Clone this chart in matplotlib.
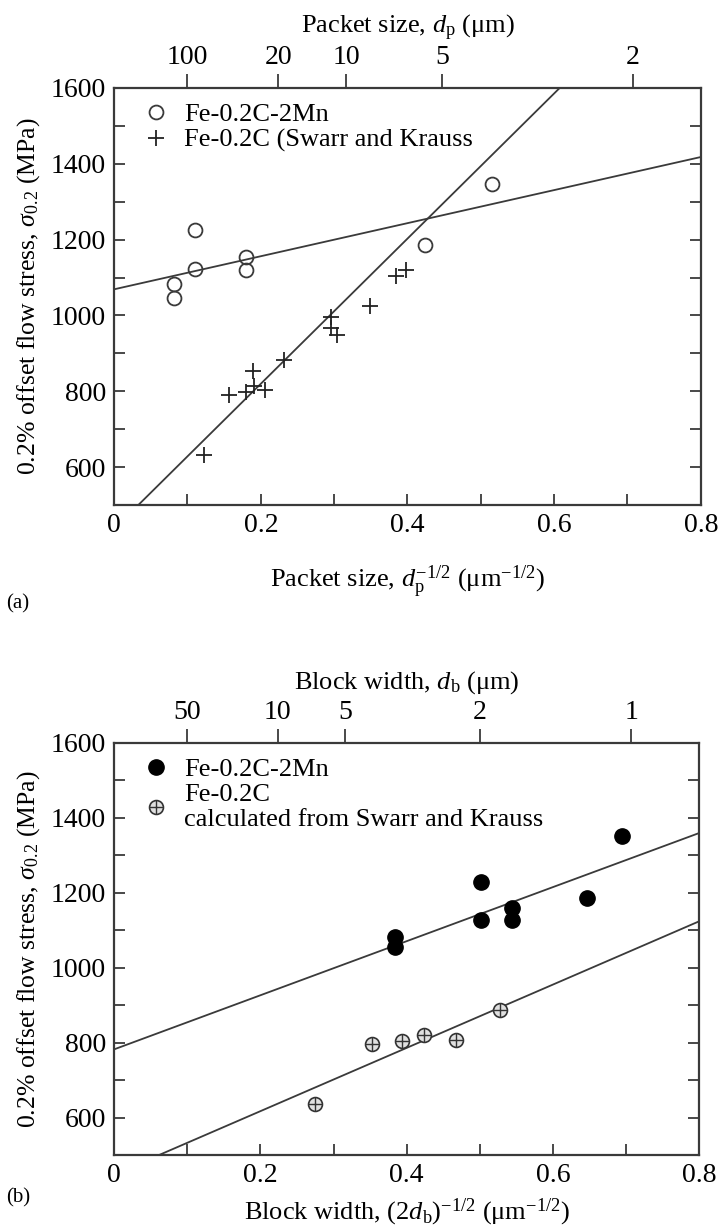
import numpy as np
import matplotlib
matplotlib.use('Agg')
import matplotlib.pyplot as plt
from matplotlib.legend_handler import HandlerTuple

plt.rcParams['font.family'] = ['Liberation Serif', 'DejaVu Serif']
plt.rcParams['mathtext.fontset'] = 'custom'
plt.rcParams['mathtext.rm'] = 'Liberation Serif'
plt.rcParams['mathtext.it'] = 'Liberation Serif:italic'

# (a) packet size data
mn_a_x = [0.081, 0.081, 0.110, 0.110, 0.180, 0.180, 0.424, 0.515]
mn_a_y = [1082, 1047, 1225, 1122, 1155, 1119, 1186, 1346]
c_a_x = [0.123, 0.157, 0.180, 0.190, 0.191, 0.206, 0.232, 0.296, 0.296, 0.304, 0.349, 0.384, 0.398]
c_a_y = [631, 789, 799, 854, 815, 804, 882, 995, 968, 949, 1024, 1104, 1119]
fit_a_mn = (1069, 436)    # intercept, slope
fit_a_c = (437, 1914)
packet_ticks = [100, 20, 10, 5, 2]

# (b) block width data
mn_b_x = [0.384, 0.384, 0.502, 0.502, 0.544, 0.544, 0.646, 0.694]
mn_b_y = [1083, 1054, 1229, 1127, 1158, 1127, 1186, 1351]
c_b_x = [0.275, 0.353, 0.393, 0.424, 0.468, 0.527]
c_b_y = [635, 795, 804, 821, 808, 888]
fit_b_mn = (782, 722)
fit_b_c = (448, 845)
block_ticks = [50, 10, 5, 2, 1]

FS = 19
grey = '#3a3a3a'


def style(ax):
    ax.set_xlim(0, 0.8)
    ax.set_ylim(500, 1600)
    ax.set_xticks([0, 0.2, 0.4, 0.6, 0.8])
    ax.set_xticklabels(['0', '0.2', '0.4', '0.6', '0.8'])
    ax.set_xticks(np.arange(0.1, 0.8, 0.2), minor=True)
    ax.set_yticks([600, 800, 1000, 1200, 1400, 1600])
    ax.set_yticks(np.arange(500, 1600, 200), minor=True)
    ax.tick_params(which='both', direction='in', top=True, right=True,
                   labelsize=20, width=1.3, color=grey, pad=6, length=8)
    for s in ax.spines.values():
        s.set_linewidth(1.6)
        s.set_color(grey)
    ax.set_ylabel(r'0.2% offset flow stress, $\sigma_{0.2}$ (MPa)', fontsize=18.5, labelpad=6)


def top_axis(ax, vals, xfun, label):
    t = ax.twiny()
    t.set_xlim(ax.get_xlim())
    t.set_xticks([xfun(v) for v in vals])
    t.set_xticklabels([str(v) for v in vals])
    t.tick_params(direction='out', length=10, width=1.3, color=grey, labelsize=20, pad=3)
    t.xaxis.set_minor_locator(plt.NullLocator())
    for s in t.spines.values():
        s.set_visible(False)
    t.set_xlabel(label, fontsize=FS, labelpad=8)
    return t


fig = plt.figure(figsize=(7.18, 12.30), dpi=100)
xs = np.linspace(0, 0.8, 200)
leg_kw = dict(loc='upper left', frameon=False, fontsize=FS, handletextpad=0.45,
              borderaxespad=0.15, labelspacing=0.1, handlelength=1.2,
              bbox_to_anchor=(0.02, 1.0))

# ---- (a)
ax1 = fig.add_axes([0.159, 0.5894, 0.817, 0.3391])
style(ax1)
ax1.plot(xs, fit_a_mn[0] + fit_a_mn[1] * xs, color=grey, lw=1.3)
ax1.plot(xs, fit_a_c[0] + fit_a_c[1] * xs, color=grey, lw=1.3)
ax1.plot(mn_a_x, mn_a_y, 'o', mfc='none', mec=grey, ms=10, mew=1.3, label='Fe-0.2C-2Mn')
ax1.plot(c_a_x, c_a_y, '+', color='#222222', ms=12, mew=1.3, label='Fe-0.2C (Swarr and Krauss')
ax1.legend(**leg_kw)
ax1.set_xlabel(r'Packet size, $d_{\rm p}^{-1/2}$ ($\mathrm{\mu m}^{-1/2}$)', fontsize=FS, labelpad=18)
top_axis(ax1, packet_ticks, lambda d: 1 / np.sqrt(d), r'Packet size, $d_{\rm p}$ ($\mathrm{\mu m}$)')
fig.text(0.008, 1 - 608 / 1230, '(a)', fontsize=15)

# ---- (b)
ax2 = fig.add_axes([0.159, 0.061, 0.815, 0.335])
style(ax2)
ax2.plot(xs, fit_b_mn[0] + fit_b_mn[1] * xs, color=grey, lw=1.3)
ax2.plot(xs, fit_b_c[0] + fit_b_c[1] * xs, color=grey, lw=1.3)
h1, = ax2.plot(mn_b_x, mn_b_y, 'o', color='black', ms=11)
h2, = ax2.plot(c_b_x, c_b_y, 'o', mfc='#e0e0e0', mec='#333333', ms=10, mew=1.2)
h3, = ax2.plot(c_b_x, c_b_y, '+', color='#333333', ms=10, mew=1.0)
ax2.legend([h1, (h2, h3)], ['Fe-0.2C-2Mn', 'Fe-0.2C\ncalculated from Swarr and Krauss'],
           handler_map={tuple: HandlerTuple(ndivide=1, pad=0)}, **leg_kw)
ax2.set_xlabel(r'Block width, $(2d_{\rm b})^{-1/2}$ ($\mathrm{\mu m}^{-1/2}$)', fontsize=FS, labelpad=6)
top_axis(ax2, block_ticks, lambda d: 1 / np.sqrt(2 * d), r'Block width, $d_{\rm b}$ ($\mathrm{\mu m}$)')
fig.text(0.008, 1 - 1202 / 1230, '(b)', fontsize=15)

fig.savefig('out.png', dpi=100)
